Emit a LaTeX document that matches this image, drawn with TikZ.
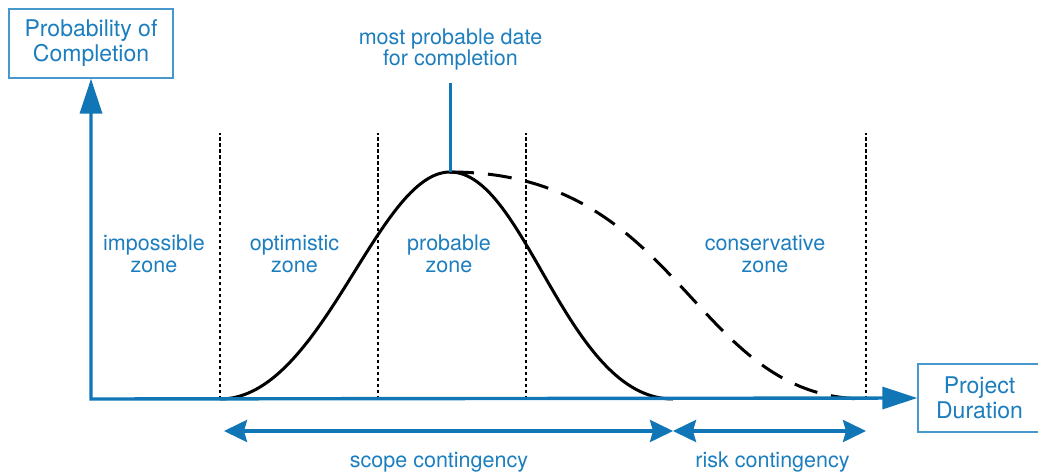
\documentclass[tikz,border=0pt]{standalone}
\usepackage{fontspec}
\setmainfont{TeX Gyre Heros}
\usetikzlibrary{arrows.meta}

\definecolor{axisblue}{RGB}{16,118,182}
\definecolor{textblue}{RGB}{28,126,190}
\definecolor{boxblue}{RGB}{72,152,205}

\tikzset{
  axislabel/.style={draw=boxblue, line width=1.4pt, fill=white, inner sep=0pt,
    align=center, text=textblue, font=\fontsize{23}{25}\selectfont},
  zonelabel/.style={align=center, text=textblue, anchor=base, inner sep=0pt,
    font=\fontsize{21.5}{21.5}\selectfont},
  axisline/.style={draw=axisblue, line width=3.4pt, line join=miter},
  spanarrow/.style={draw=axisblue, line width=3.4pt,
    {Stealth[length=23pt,width=22pt,inset=3pt]}-{Stealth[length=23pt,width=22pt,inset=3pt]}},
  zoneline/.style={draw=black, line width=1.5pt, dash pattern=on 3.5pt off 2.5pt},
  curveline/.style={draw=black, line width=3pt},
}

\begin{document}
\begin{tikzpicture}[x=1pt, y=-1pt]
  \useasboundingbox (0,0) rectangle (1038,473);
  \clip (0,0) rectangle (1038,473);

  % axis labels
  \node[axislabel, minimum width=164pt, minimum height=69pt] (ylab) at (91,43.5)
    {Probability of\\Completion};
  \node[axislabel, minimum width=123pt, minimum height=68pt] (xlab) at (979.5,398)
    {Project\\Duration};

  % key points on the time axis
  \coordinate (origin) at (91,399);
  \coordinate (zA) at (220,399);
  \coordinate (zB) at (378,399);
  \coordinate (zC) at (526,399);
  \coordinate (zD) at (866,399);
  \coordinate (peak) at (450,172);
  \coordinate (solidend) at (673,399);

  % zone boundaries
  \foreach \p in {zA,zB,zC,zD}
    \draw[zoneline] (\p) -- ++(0,-266);

  % probability curves
  \draw[curveline] (zA) .. controls (322,399) and (377,172) .. (peak)
                        .. controls (526,172) and (566,399) .. (solidend);
  \draw[curveline, dash pattern=on 24pt off 14pt] (peak)
        .. controls (684,172) and (691,399) .. (zD);

  % most probable date marker
  \coordinate (mptop) at (450,83);
  \draw[draw=axisblue, line width=3pt] (mptop) -- (peak);
  \node[zonelabel] (mplab) at (450.5,66) {most probable date\\for completion};

  % axes
  \draw[axisline, {Triangle[length=35pt,width=22pt]}-{Triangle[length=35pt,width=22pt]}]
    (ylab.south) -- (origin) -- (xlab.west);

  % zone labels
  \node[zonelabel] (impz) at (154,272) {impossible\\zone};
  \node[zonelabel] (optz) at (294.5,272) {optimistic\\zone};
  \node[zonelabel] (probz) at (449,272) {probable\\zone};
  \node[zonelabel] (consz) at (765,272) {conservative\\zone};

  % contingency spans
  \coordinate (sL) at (224,431);
  \coordinate (sM) at (673,431);
  \coordinate (sR) at (866,431);
  \draw[spanarrow] (sL) -- (sM);
  \draw[spanarrow] (sM) -- (sR);
  \node[zonelabel] (scope) at (439,467) {scope contingency};
  \node[zonelabel] (risk) at (772.5,467) {risk contingency};
\end{tikzpicture}
\end{document}
